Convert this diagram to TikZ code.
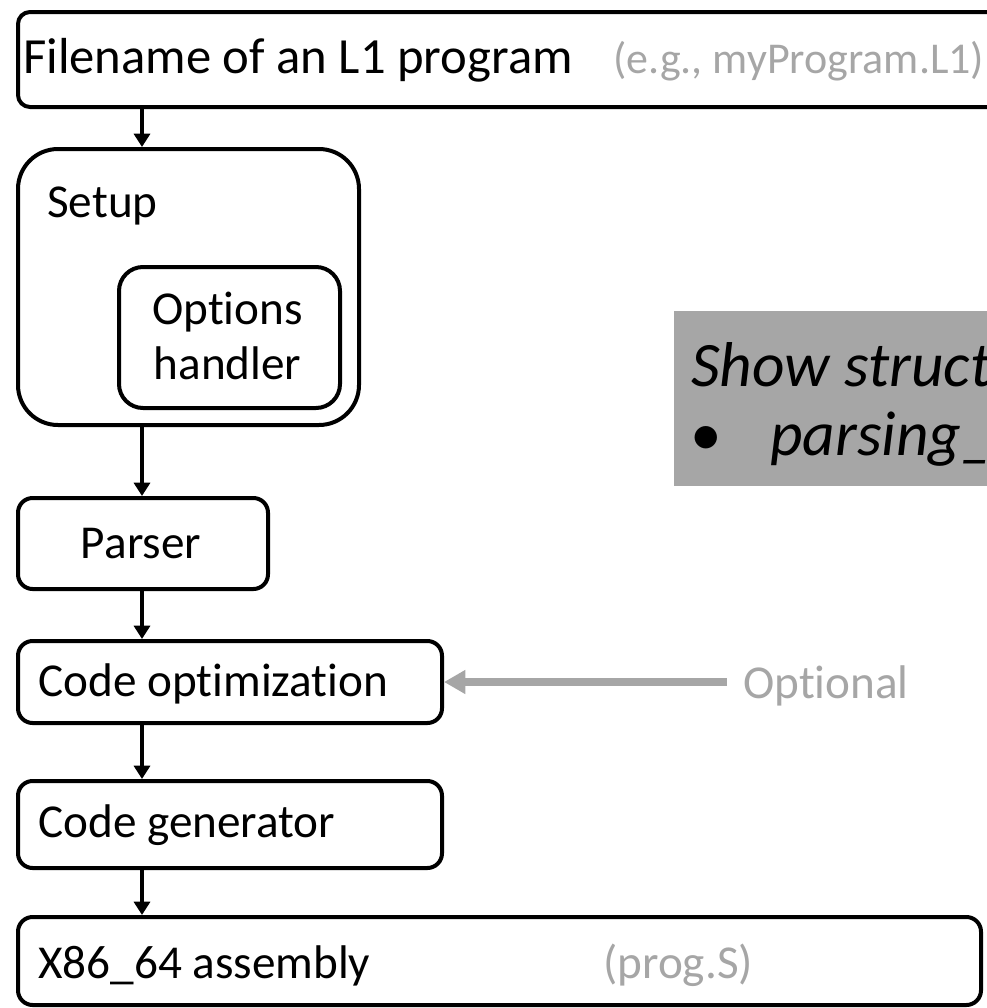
\documentclass[tikz,border=0pt]{standalone}
\usepackage{fontspec}
\setmainfont{Carlito}[Ligatures=NoCommon]
\usetikzlibrary{arrows.meta}
\definecolor{midgray}{HTML}{A6A6A6}
\begin{document}
\begin{tikzpicture}[x=0.75pt,y=-0.75pt,
  stage/.style={draw=black,line width=3pt,inner sep=0pt,anchor=north west,rounded corners=#1},
  stage/.default=11pt,
  lbl/.style={inner sep=0pt,anchor=base west,font=\fontsize{35.4}{42.5}\selectfont},
  notetext/.style={inner sep=0pt,anchor=base west,font=\fontsize{47.5}{57}\selectfont\itshape},
  flow/.style={draw=black,line width=3pt,-{Triangle[width=12pt,length=10pt]}},
  optflow/.style={draw=midgray,line width=6.5pt,-{Triangle[width=17pt,length=16pt]}}]
\useasboundingbox (0,0) rectangle (987,1008);
\clip (0,0) rectangle (987,1008);

% note box on the right
\node[fill=midgray,inner sep=0pt,anchor=north west,minimum width=340*0.75pt,minimum height=175*0.75pt] (note) at (674,311) {};
\node[notetext] (notehead) at (691,386) {Show struct};
\node[notetext,font=\fontsize{47.5}{57}\selectfont] (bullet) at (690,455) {•};
\node[notetext] (noteitem) at (770,455) {parsing\_};

% pipeline stages
\node[stage=9pt,minimum width=1000*0.75pt,minimum height=95*0.75pt] (input) at (16,10) {};
\node[stage=30pt,minimum width=341*0.75pt,minimum height=276*0.75pt] (setup) at (16,147) {};
\node[stage=18pt,minimum width=221*0.75pt,minimum height=141*0.75pt] (opts) at (117,265) {};
\node[stage,minimum width=250*0.75pt,minimum height=91*0.75pt] (parser) at (16,496) {};
\node[stage,minimum width=424*0.75pt,minimum height=82*0.75pt] (codeopt) at (16,639) {};
\node[stage,minimum width=424*0.75pt,minimum height=87*0.75pt] (codegen) at (16,779) {};
\node[stage,minimum width=963*0.75pt,minimum height=88*0.75pt] (asm) at (16,915) {};

% stage labels
\node[lbl,font=\fontsize{38}{46}\selectfont] (inputlbl) at (23,73) {Filename of an L1 program};
\node[lbl,text=midgray,font=\fontsize{33}{40}\selectfont] (inputex) at (613,73) {(e.g., myProgram.L1)};
\node[lbl] (setuplbl) at (47,217) {Setup};
\node[lbl,anchor=base] (optslbla) at (227.5,324) {Options};
\node[lbl,anchor=base] (optslblb) at (227.5,379) {handler};
\node[lbl,anchor=base] (parserlbl) at (141,558) {Parser};
\node[lbl] (codeoptlbl) at (38,696) {Code optimization};
\node[lbl] (codegenlbl) at (38,837) {Code generator};
\node[lbl] (asmlbl) at (38,978) {X86\_64 assembly};
\node[lbl,text=midgray] (asmex) at (603,978) {(prog.S)};
\node[lbl,text=midgray] (optional) at (743,698) {Optional};

% connectors
\coordinate (ax) at (142,0);
\draw[flow] (input.south -| ax) -- (setup.north -| ax);
\draw[flow] (setup.south -| ax) -- (parser.north -| ax);
\draw[flow] (parser.south -| ax) -- (codeopt.north -| ax);
\draw[flow] (codeopt.south -| ax) -- (codegen.north -| ax);
\draw[flow] (codegen.south -| ax) -- (asm.north -| ax);
\coordinate (optstart) at (727,682);
\draw[optflow] (optstart) -- (codeopt.east |- optstart);
\end{tikzpicture}
\end{document}
